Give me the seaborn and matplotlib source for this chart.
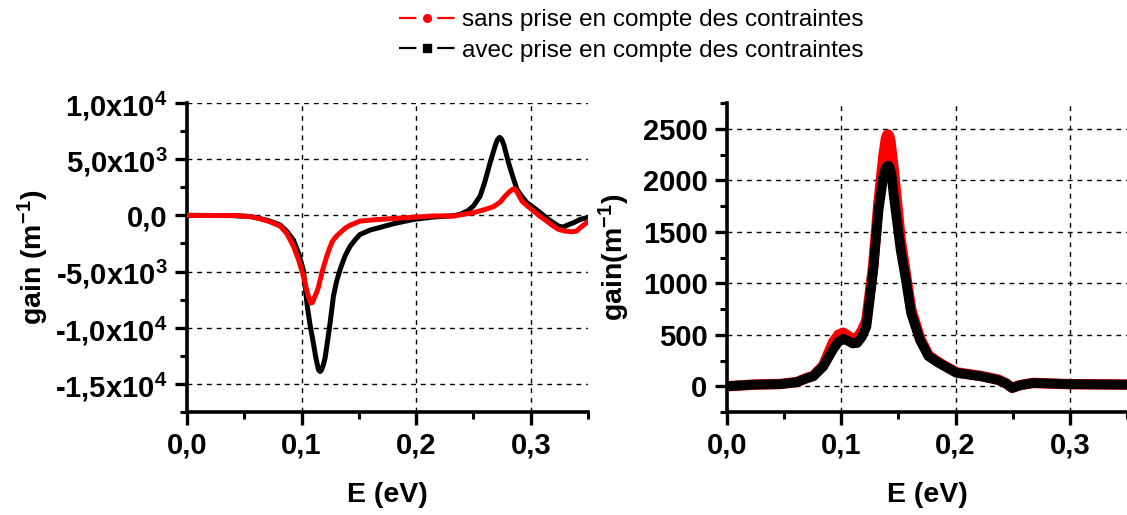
import numpy as np
import pandas as pd
import matplotlib
matplotlib.use("Agg")
import matplotlib.pyplot as plt
import seaborn as sns
from matplotlib.lines import Line2D
from matplotlib.ticker import MultipleLocator, FixedLocator, FixedFormatter

sns.set_theme(style="white")
plt.rcParams['font.family'] = ['Liberation Sans', 'DejaVu Sans']
plt.rcParams['mathtext.fontset'] = 'custom'
plt.rcParams['mathtext.rm'] = 'Liberation Sans'
plt.rcParams['mathtext.bf'] = 'Liberation Sans:bold'
plt.rcParams['mathtext.default'] = 'bf'
plt.rcParams['lines.scale_dashes'] = False
for k in ('text.color', 'axes.labelcolor', 'xtick.color', 'ytick.color'):
    plt.rcParams[k] = 'black'

# ---------------- data ----------------
series_names = ["sans prise en compte des contraintes", "avec prise en compte des contraintes"]

# Left panel: red (sans contraintes)
left_red_E = [0.0, 0.04, 0.055, 0.0638, 0.072, 0.0812, 0.087, 0.0929, 0.0975, 0.1016, 0.1051,
              0.1068, 0.108, 0.1095, 0.111, 0.113, 0.1147, 0.118, 0.122, 0.1245, 0.127, 0.130,
              0.1336, 0.138, 0.142, 0.151, 0.165, 0.18,
              0.20, 0.215, 0.2326, 0.2501, 0.26, 0.2675, 0.2735, 0.2777, 0.2820, 0.2845, 0.2856,
              0.2870, 0.2890, 0.2923, 0.2975, 0.3025, 0.308, 0.314, 0.319, 0.3243, 0.330, 0.336,
              0.3400, 0.3432, 0.347, 0.3505]
left_red_G = [0, -20, -100, -300, -550, -950, -1600, -2740, -4000, -5400, -6900,
              -7500, -7800, -7750, -7350, -6900, -6400, -5000, -3630, -2900, -2300, -1900,
              -1550, -1150, -900, -510, -380, -280,
              -150, -50, -60, 240, 520, 770, 1200, 1720, 2150, 2330, 2380,
              2250, 1900, 1280, 800, 390, -80, -510, -900, -1250, -1400, -1460,
              -1400, -1100, -800, -510]

# Left panel: black (avec contraintes)
left_blk_E = [0.0, 0.04, 0.055, 0.0638, 0.072, 0.0812, 0.087, 0.0929, 0.0975, 0.1016, 0.105,
              0.1075, 0.1103, 0.1125, 0.1148, 0.1162, 0.1175, 0.119, 0.1205, 0.122, 0.125,
              0.1278, 0.1305, 0.1336, 0.138, 0.1424, 0.147, 0.151,
              0.16, 0.1686, 0.18, 0.1977, 0.215, 0.2326, 0.2384, 0.245, 0.250, 0.2559,
              0.2600, 0.2646, 0.2690, 0.2710, 0.2728, 0.2745, 0.2765, 0.2806, 0.2845, 0.288,
              0.2925, 0.2967, 0.3025, 0.3083, 0.316, 0.3243, 0.328, 0.3316, 0.3375, 0.3432, 0.349]
left_blk_G = [0, -20, -100, -280, -500, -850, -1400, -2200, -3400, -4900, -8100,
              -9800, -11370, -12700, -13750, -13900, -13750, -13300, -12700, -11670, -9500,
              -7200, -5900, -4820, -3600, -2740, -2150, -1700,
              -1300, -1070, -750, -360, -150, -30, 90, 400, 830, 1720,
              3000, 4700, 6200, 6750, 6940, 6800, 6300, 4700, 3400, 2320,
              1650, 1130, 700, 240, -400, -950, -1050, -890, -650, -360, -210]

# Right panel: red (sans contraintes)
right_red_E = [0.0, 0.024, 0.0463, 0.0609, 0.0698, 0.0754, 0.0841, 0.0929, 0.0975, 0.1016,
               0.1060, 0.1100, 0.1140, 0.118, 0.122, 0.128, 0.1325, 0.1368, 0.1390, 0.1400,
               0.1409, 0.1420, 0.1430, 0.1459, 0.152, 0.1566, 0.1611, 0.1688, 0.1764, 0.1855,
               0.2008, 0.222, 0.2373, 0.2440, 0.2495, 0.2560, 0.2678, 0.30, 0.35]
right_red_G = [0, 16, 22, 40, 80, 100, 200, 430, 500, 520,
               490, 455, 470, 540, 640, 1180, 1780, 2230, 2400, 2435,
               2445, 2425, 2380, 2100, 1420, 1080, 750, 470, 300, 230,
               135, 100, 65, 30, -16, 10, 32, 20, 16]

# Right panel: black (avec contraintes)
right_blk_E = [0.0, 0.024, 0.0463, 0.0609, 0.0698, 0.0754, 0.0841, 0.0929, 0.0975, 0.1016,
               0.1060, 0.1100, 0.1140, 0.118, 0.122, 0.128, 0.1325, 0.1368, 0.1390, 0.1405,
               0.1415, 0.1428, 0.1440, 0.1459, 0.152, 0.1566, 0.1611, 0.1688, 0.1764, 0.1855,
               0.2008, 0.222, 0.2373, 0.2440, 0.2495, 0.2560, 0.2678, 0.30, 0.35]
right_blk_G = [0, 16, 20, 39, 78, 97, 190, 360, 430, 460,
               440, 415, 420, 480, 580, 1130, 1700, 2040, 2120, 2140,
               2140, 2110, 2050, 1850, 1320, 1030, 710, 450, 290, 225,
               130, 97, 60, 28, -16, 8, 32, 20, 16]

left_yticks = [-15000, -10000, -5000, 0, 5000, 10000]
left_yticklabels = [r"-1,5x10$^{4}$", r"-1,0x10$^{4}$", r"-5,0x10$^{3}$", "0,0",
                    r"5,0x10$^{3}$", r"1,0x10$^{4}$"]
right_yticks = [0, 500, 1000, 1500, 2000, 2500]
right_yticklabels = ["0", "500", "1000", "1500", "2000", "2500"]
xticks = [0.0, 0.1, 0.2, 0.3]
xticklabels = ["0,0", "0,1", "0,2", "0,3"]

# ---------------- figure ----------------
W, H = 1127, 515
fig = plt.figure(figsize=(W / 100, H / 100), dpi=100)
fig.patch.set_facecolor("white")
ax1 = fig.add_axes([187 / W, 0.2, (588 - 187) / W, 0.6])
ax2 = fig.add_axes([727 / W, 0.2, 400 / W, 0.6])

def df_of(E, G):
    return pd.DataFrame({"E": E, "G": G})

kw = dict(estimator=None, solid_joinstyle="round", solid_capstyle="round")
# left: black first, red on top
sns.lineplot(data=df_of(left_blk_E, left_blk_G), x="E", y="G", ax=ax1, color="black",
             lw=3.6, zorder=3, **kw)
sns.lineplot(data=df_of(left_red_E, left_red_G), x="E", y="G", ax=ax1, color="#ff0000",
             lw=3.6, zorder=4, **kw)
# right: red first, black on top
sns.lineplot(data=df_of(right_red_E, right_red_G), x="E", y="G", ax=ax2, color="#ff0000",
             lw=7.5, zorder=3, **kw)
sns.lineplot(data=df_of(right_blk_E, right_blk_G), x="E", y="G", ax=ax2, color="black",
             lw=7.0, zorder=4, **kw)

for ax in (ax1, ax2):
    ax.set_facecolor("white")
    ax.set_xlim(0, 0.35)
    ax.xaxis.set_major_locator(FixedLocator(xticks))
    ax.xaxis.set_major_formatter(FixedFormatter(xticklabels))
    ax.xaxis.set_minor_locator(MultipleLocator(0.05))
    for s in ("top", "right"):
        ax.spines[s].set_visible(False)
    for s in ("left", "bottom"):
        ax.spines[s].set_visible(True)
        ax.spines[s].set_color("black")
        ax.spines[s].set_linewidth(2.6)
    ax.tick_params(which="major", direction="out", length=9, width=2.4, color="black",
                   labelsize=21, pad=5, bottom=True, left=True, labelcolor="black")
    ax.tick_params(which="minor", direction="out", length=5, width=2.2, color="black",
                   bottom=True, left=True)
    ax.grid(True, which="major", color="black", linestyle=(0, (3.5, 3.5)), linewidth=1.0)
    ax.set_axisbelow(True)
    ax.set_xlabel("E (eV)", fontsize=20.5, fontweight="bold", labelpad=16, color="black")

ax1.set_ylim(-17500, 10000)
ax1.yaxis.set_major_locator(FixedLocator(left_yticks))
ax1.yaxis.set_major_formatter(FixedFormatter(left_yticklabels))
ax1.yaxis.set_minor_locator(MultipleLocator(2500))
ax1.set_ylabel(r"gain (m$^{-1}$)", fontsize=20.5, fontweight="bold", labelpad=3, color="black")

ax2.set_ylim(-250, 2750)
ax2.yaxis.set_major_locator(FixedLocator(right_yticks))
ax2.yaxis.set_major_formatter(FixedFormatter(right_yticklabels))
ax2.yaxis.set_minor_locator(MultipleLocator(250))
ax2.set_ylabel(r"gain(m$^{-1}$)", fontsize=20.5, fontweight="bold", labelpad=8, color="black")

for ax in (ax1, ax2):
    for lab in ax.get_xticklabels() + ax.get_yticklabels():
        lab.set_fontweight("bold")

# legend handles: short line, gap, marker, gap, short line
dash = (0, (12.5, 15.0, 12.5, 15.0))
handles = [
    Line2D([], [], color="#ff0000", lw=1.6, linestyle=dash, marker="o", markersize=5.5),
    Line2D([], [], color="black", lw=1.6, linestyle=dash, marker="s", markersize=5.5),
]
fig.legend(handles, series_names, loc="upper left", bbox_to_anchor=(399 / W, 1.0 - 9 / H),
           frameon=False, fontsize=17.5, handlelength=2.3, handletextpad=0.3,
           labelspacing=0.35, borderaxespad=0.0, borderpad=0.0, labelcolor="black")

fig.savefig("out.png", dpi=100, facecolor="white")
